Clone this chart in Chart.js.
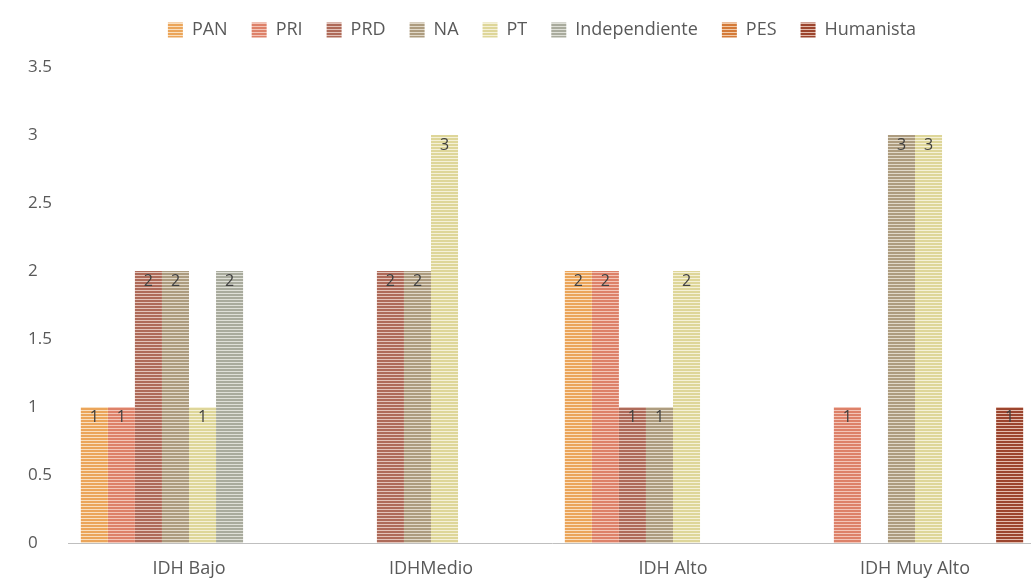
<!DOCTYPE html>
<html>
<head>
<meta charset="utf-8">
<script src="https://cdn.jsdelivr.net/npm/chart.js@4.4.1/dist/chart.umd.min.js"></script>
<style>
  html, body { margin: 0; padding: 0; background: #ffffff; overflow: hidden; }
  #wrap { position: relative; width: 1036px; height: 586px; }
</style>
</head>
<body>
<div id="wrap"><canvas id="c"></canvas></div>
<script>
// Categories and party series
const categories = ['IDH Bajo', 'IDHMedio', 'IDH Alto', 'IDH Muy Alto'];
const parties = ['PAN', 'PRI', 'PRD', 'NA', 'PT', 'Independiente', 'PES', 'Humanista'];

const panValues   = [1, 0, 2, 0];
const priValues   = [1, 0, 2, 1];
const prdValues   = [2, 2, 1, 0];
const naValues    = [2, 2, 1, 3];
const ptValues    = [1, 3, 2, 3];
const indepValues = [2, 0, 0, 0];
const pesValues   = [0, 0, 0, 0];
const humValues   = [0, 0, 0, 1];

const yTicks = [0, 0.5, 1, 1.5, 2, 2.5, 3, 3.5];

// stripe colours: [line, gap]
const stripeColors = [
  ['#eba55a', '#f9dfbf'],
  ['#dd8169', '#f3c5b8'],
  ['#ae6a59', '#e2c2b9'],
  ['#ad9c7f', '#e1d9c9'],
  ['#ded699', '#f5f1d8'],
  ['#a9ab9d', '#dfe0d8'],
  ['#d47a38', '#f2ccab'],
  ['#9c452e', '#e3bcae']
];

function stripes(line, gap) {
  const p = document.createElement('canvas');
  p.width = 4; p.height = 3;
  const g = p.getContext('2d');
  g.fillStyle = gap; g.fillRect(0, 0, 4, 3);
  g.fillStyle = line; g.fillRect(0, 0, 4, 2);
  return g.createPattern(p, 'repeat');
}

const seriesValues = [panValues, priValues, prdValues, naValues, ptValues, indepValues, pesValues, humValues];

const datasets = parties.map((name, i) => ({
  label: name,
  data: seriesValues[i],
  backgroundColor: stripes(stripeColors[i][0], stripeColors[i][1]),
  borderWidth: 0,
  categoryPercentage: 0.894,
  barPercentage: 1.0
}));

const FONT = '"Open Sans", sans-serif';
const LEGEND_PAD = 24;
const LEGEND_FONT = 18;

// value labels inside the top of each non-zero bar
const valueLabels = {
  id: 'valueLabels',
  afterDatasetsDraw(chart) {
    const ctx = chart.ctx;
    ctx.save();
    ctx.font = '16px ' + FONT;
    ctx.fillStyle = '#404040';
    ctx.textAlign = 'center';
    ctx.textBaseline = 'middle';
    chart.data.datasets.forEach((ds, i) => {
      chart.getDatasetMeta(i).data.forEach((bar, j) => {
        const v = ds.data[j];
        if (!v) return;
        ctx.fillText(String(v), bar.x, bar.y + 10);
      });
    });
    ctx.restore();
  }
};

// place the legend row: centred at x = 542, text centred at y = 30
const legendPlace = {
  id: 'legendPlace',
  afterLayout(chart) {
    const l = chart.legend;
    const shift = 542 - (l.left + l.right) / 2;
    l.left += shift;
    l.right += shift;
    const h = l.height;
    l.top = 30 - LEGEND_PAD - LEGEND_FONT / 2;
    l.bottom = l.top + h;
  }
};

new Chart(document.getElementById('c'), {
  type: 'bar',
  data: { labels: categories, datasets },
  plugins: [valueLabels, legendPlace],
  options: {
    responsive: true,
    maintainAspectRatio: false,
    animation: false,
    layout: { padding: { left: 28, right: 0, top: 15, bottom: 0 } },
    plugins: {
      legend: {
        position: 'top',
        labels: {
          boxWidth: 15,
          boxHeight: 15,
          padding: LEGEND_PAD,
          color: '#595959',
          font: { family: FONT, size: LEGEND_FONT }
        }
      },
      tooltip: { enabled: false }
    },
    scales: {
      x: {
        grid: { display: false, drawTicks: false },
        border: { display: true, color: '#bfbfbf', width: 1 },
        ticks: {
          color: '#595959',
          padding: 15,
          font: { family: FONT, size: 18 }
        },
        afterFit(scale) { scale.height = 43; }
      },
      y: {
        min: 0,
        max: 3.5,
        afterBuildTicks(scale) { scale.ticks = yTicks.map(v => ({ value: v })); },
        grid: { display: false, drawTicks: false },
        border: { display: false },
        ticks: {
          color: '#595959',
          crossAlign: 'far',
          padding: 0,
          font: { family: FONT, size: 17 },
          callback: (v) => String(v)
        },
        afterFit(scale) { scale.width = 40; }
      }
    }
  }
});
</script>
</body>
</html>
